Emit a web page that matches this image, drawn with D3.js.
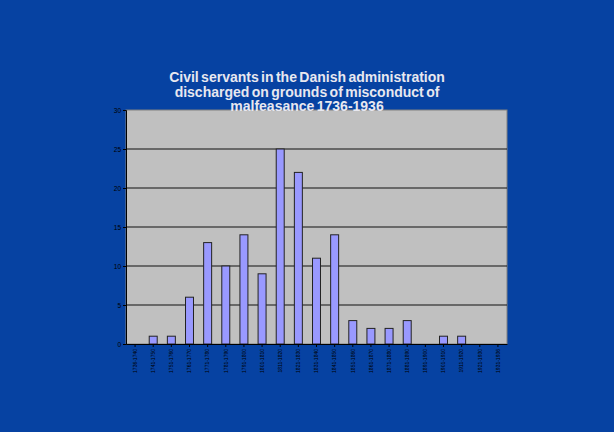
<!DOCTYPE html>
<html><head><meta charset="utf-8">
<script src="https://cdn.jsdelivr.net/npm/d3@7"></script>
<style>body{margin:0;background:#0642a2;}svg{display:block;}</style>
</head><body>
<script>
const categories = ["1736-1740","1741-1750","1751-1760","1761-1770","1771-1780","1781-1790","1791-1800","1801-1810","1811-1820","1821-1830","1831-1840","1841-1850","1851-1860","1861-1870","1871-1880","1881-1890","1891-1900","1901-1910","1911-1920","1921-1930","1931-1936"];
const values = [0,1,1,6,13,10,14,9,25,22,11,14,3,2,2,3,0,1,1,0,0];
const yTicks = [0,5,10,15,20,25,30];
const titleLines = ["Civil servants in the Danish administration","discharged on grounds of misconduct of","malfeasance 1736-1936"];

const W=614,H=432;
const svg=d3.select("body").append("svg").attr("width",W).attr("height",H);
svg.append("rect").attr("width",W).attr("height",H).attr("fill","#0642a2");
const L=126,R=507,T=110,B=344;
const x=d3.scaleBand().domain(categories).range([L,R]).paddingInner(0.56).paddingOuter(0.28);
const y=d3.scaleLinear().domain([0,30]).range([B,T]);
svg.append("rect").attr("x",L).attr("y",T).attr("width",R-L).attr("height",B-T)
  .attr("fill","#c0c0c0").attr("stroke","#808080").attr("stroke-width",1);
svg.append("g").selectAll("line").data(yTicks.filter(d=>d>0&&d<30)).join("line")
  .attr("x1",L).attr("x2",R).attr("y1",d=>y(d)).attr("y2",d=>y(d))
  .attr("stroke","#111").attr("stroke-width",1);
svg.append("g").selectAll("rect").data(values).join("rect")
  .attr("x",(d,i)=>x(categories[i])).attr("width",x.bandwidth())
  .attr("y",d=>y(d)).attr("height",d=>B-y(d))
  .attr("fill","#9999ff").attr("stroke","#222").attr("stroke-width",1);
const ya=svg.append("g").attr("transform",`translate(${L},0)`)
  .call(d3.axisLeft(y).tickValues(yTicks).tickSize(3).tickPadding(2));
ya.select(".domain").attr("stroke","#000");
ya.selectAll("line").attr("stroke","#000");
ya.selectAll("text").attr("fill","#000").style("font-family","Arial, Liberation Sans").style("font-size","6.5px");
const xa=svg.append("g").attr("transform",`translate(0,${B})`)
  .call(d3.axisBottom(x).tickSize(3).tickSizeOuter(0));
xa.select(".domain").attr("stroke","#000");
xa.selectAll("line").attr("stroke","#000");
xa.selectAll("text").attr("fill","#000").style("font-family","Arial, Liberation Sans").style("font-size","5px")
  .attr("transform","rotate(-90)").attr("text-anchor","end").attr("x",-5).attr("y",0).attr("dy","0.35em");
svg.append("text").attr("x",307).attr("y",82).attr("text-anchor","middle")
  .attr("fill","#e8e8f0").style("font-family","Arial, Liberation Sans").style("font-weight","bold").style("font-size","14px")
  .style("letter-spacing","0px").style("word-spacing","-1.5px")
  .selectAll("tspan").data(titleLines).join("tspan").attr("x",307).attr("dy",(d,i)=>i?14.5:0).text(d=>d);
</script>
</body></html>
